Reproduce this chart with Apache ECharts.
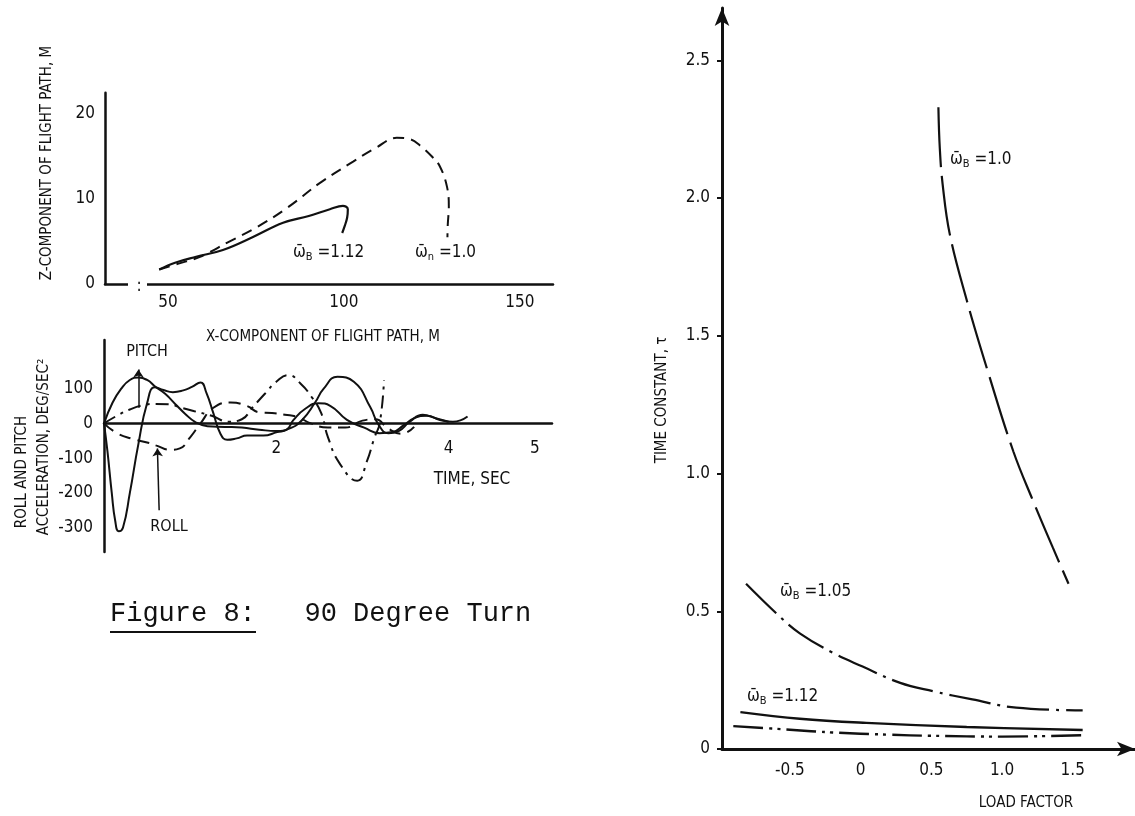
<!DOCTYPE html>
<html>
<head>
<meta charset="utf-8">
<title>Figure 8: 90 Degree Turn</title>
<script src="https://cdn.jsdelivr.net/npm/echarts@6/dist/echarts.min.js"></script>
<style>
  html, body { margin: 0; padding: 0; background: #fff; }
  #chart { width: 1135px; height: 816px; }
</style>
</head>
<body>
<div id="chart"></div>
<script>
// flight path (top left), x in m, z in m
const pathX112 = [47.5, 52, 58, 65.6, 74, 82.7, 90, 96, 99.7, 101.1, 100.9, 100.2, 99.5]
const pathZ112 = [1.7, 2.5, 3.2, 4.0, 5.5, 7.2, 8.0, 8.8, 9.2, 8.8, 7.8, 6.8, 6.0]
const pathX100 = [47.5, 53, 59.1, 67, 75.3, 84, 93.2, 102.6, 109, 115, 119, 121.6, 125, 127.3, 129.3, 129.8, 129.5, 129.4]
const pathZ100 = [1.7, 2.4, 3.2, 4.9, 6.7, 9.0, 11.9, 14.4, 16.0, 17.2, 17.0, 16.3, 15.0, 13.8, 11.4, 9.1, 7.0, 5.5]
const pathXTicks = [50, 100, 150]
const pathZTicks = [0, 10, 20]

// roll and pitch acceleration (bottom left), time in sec, deg/sec^2
const rollSolidT = [0, 0.04, 0.09, 0.13, 0.17, 0.22, 0.30, 0.40, 0.50, 0.59, 0.69, 0.80, 0.92, 1.02, 1.12, 1.19, 1.27, 1.35, 1.43, 1.54, 1.66, 1.85, 2.01, 2.12, 2.20, 2.34, 2.49, 2.63, 2.82, 3.02, 3.20, 3.35, 3.48, 3.60, 3.75, 3.90, 4.05, 4.22]
const rollSolidV = [0, -80, -200, -280, -310, -300, -200, -58, 58, 104, 96, 90, 95, 105, 118, 87, 29, -29, -47, -43, -35, -35, -25, -18, 10, 43, 58, 50, 10, -12, -28, -25, -5, 15, 22, 10, 5, 20]
const pitchSolidT = [0, 0.1, 0.2, 0.3, 0.4, 0.5, 0.6, 0.71, 0.85, 0.94, 1.06, 1.2, 1.4, 1.6, 1.8, 2.0, 2.15, 2.3, 2.45, 2.55, 2.71, 2.9, 3.09, 3.19, 3.3, 3.42, 3.55, 3.7, 3.85, 4.0]
const pitchSolidV = [0, 60, 100, 125, 132, 125, 105, 85, 50, 28, 4, -8, -10, -12, -18, -22, -15, 10, 60, 100, 134, 120, 47, -5, -28, -22, 5, 25, 15, 5]
const pitchDashT = [0, 0.15, 0.3, 0.45, 0.6, 0.75, 0.9, 1.05, 1.25, 1.45, 1.6, 1.72, 1.87, 2.0, 2.14, 2.28, 2.41, 2.52, 2.6, 2.74, 2.94, 3.05, 3.14, 3.2, 3.25]
const pitchDashV = [0, 22, 40, 52, 56, 55, 45, 35, 22, 5, 12, 45, 86, 120, 139, 115, 76, 30, -40, -117, -165, -110, -40, 0, 125]
const rollDashT = [0, 0.15, 0.34, 0.5, 0.61, 0.77, 0.88, 1.0, 1.12, 1.27, 1.47, 1.66, 1.8, 1.95, 2.1, 2.25, 2.4, 2.6, 2.8, 3.0, 3.15, 3.3, 3.45, 3.6]
const rollDashV = [0, -28, -45, -55, -64, -76, -72, -40, 0, 45, 60, 50, 32, 30, 25, 18, 0, -12, -12, 8, 12, -15, -30, -10]
const timeTicks = [2, 4, 5]
const accTicks = [-300, -200, -100, 0, 100]

// time constant vs load factor (right)
const load100 = [0.55, 0.56, 0.58, 0.63, 0.75, 0.90, 1.08, 1.22, 1.36, 1.47]
const tau100 = [2.33, 2.18, 2.05, 1.87, 1.63, 1.37, 1.08, 0.90, 0.73, 0.60]
const load105 = [-0.81, -0.57, -0.43, -0.2, 0.01, 0.28, 0.51, 0.79, 1.10, 1.57]
const tau105 = [0.60, 0.48, 0.42, 0.35, 0.30, 0.24, 0.21, 0.18, 0.15, 0.14]
const load112 = [-0.85, -0.43, 0.04, 0.75, 1.57]
const tau112 = [0.134, 0.11, 0.095, 0.08, 0.069]
const loadLow = [-0.9, -0.5, -0.2, 0.2, 0.5, 1.0, 1.58]
const tauLow = [0.083, 0.07, 0.06, 0.052, 0.048, 0.045, 0.05]
const loadTicks = [-0.5, 0, 0.5, 1.0, 1.5]
const tauTicks = [0, 0.5, 1.0, 1.5, 2.0, 2.5]

const zip = (a, b) => a.map((v, i) => [v, b[i]])

const FONT = "'Liberation Sans Narrow', 'DejaVu Sans Condensed', 'DejaVu Sans', sans-serif"
const INK = '#111'
const omega = '\u03C9\u0304'

// acceleration axis range; time axis sits on the zero line
const accMin = -370
const accMax = 240
const accHeight = 212
const zeroOffset = -accHeight * (0 - accMin) / (accMax - accMin)

const chart = echarts.init(document.getElementById('chart'))

const axisLine = (extra) => Object.assign({ show: true, onZero: false, lineStyle: { color: INK, width: 2.5 } }, extra || {})
const label = (vals, margin, fmt) => ({
  customValues: vals, margin, color: INK, fontSize: 17, fontFamily: FONT,
  formatter: fmt || (v => String(v))
})
const one = v => (v === 0 ? '0' : v.toFixed(1))

const line = (xi, data, width, type, smooth) => ({
  type: 'line', xAxisIndex: xi, yAxisIndex: xi, data,
  showSymbol: false, smooth: smooth == null ? 0.4 : smooth, silent: true,
  lineStyle: { color: INK, width, type }
})

const omegaText = (x, y, sub, val) => ({
  type: 'text', x, y, z: 50,
  style: {
    text: `{a|${omega}}{s|${sub}}{a| =${val}}`,
    verticalAlign: 'middle',
    rich: {
      a: { fontSize: 17, fontFamily: FONT, fill: INK },
      s: { fontSize: 11, fontFamily: FONT, fill: INK, padding: [9, 0, 0, 0] }
    }
  }
})
const txt = (x, y, text, size, rot, align) => ({
  type: 'text', x, y, rotation: rot || 0, z: 50,
  style: { text, fontSize: size, fontFamily: FONT, fill: INK, align: align || 'center', verticalAlign: 'middle' }
})

const option = {
  backgroundColor: '#fff',
  animation: false,
  grid: [
    { left: 105, top: 92.75, width: 448, height: 191.25 },
    { left: 104, top: 340, width: 448, height: accHeight },
    { left: 722, top: 8, width: 413, height: 741 }
  ],
  xAxis: [
    { type: 'value', gridIndex: 0, min: 32.1, max: 159.4, axisLine: axisLine(), axisTick: { show: false },
      splitLine: { show: false }, axisLabel: label(pathXTicks, 10) },
    { type: 'value', gridIndex: 1, min: 0, max: 5.2, offset: zeroOffset, axisLine: axisLine(), axisTick: { show: false },
      splitLine: { show: false }, axisLabel: label(timeTicks, 17) },
    { type: 'value', gridIndex: 2, min: -0.98, max: 1.94,
      axisLine: axisLine({ symbol: ['none', 'arrow'], symbolSize: [11, 18], lineStyle: { color: INK, width: 3 } }),
      axisTick: { show: false }, splitLine: { show: false }, axisLabel: label(loadTicks, 13, one) }
  ],
  yAxis: [
    { type: 'value', gridIndex: 0, min: 0, max: 22.5, axisLine: axisLine(), axisTick: { show: false },
      splitLine: { show: false }, axisLabel: label(pathZTicks, 10) },
    { type: 'value', gridIndex: 1, min: accMin, max: accMax, axisLine: axisLine(), axisTick: { show: false },
      splitLine: { show: false }, axisLabel: label(accTicks, 11) },
    { type: 'value', gridIndex: 2, min: 0, max: 2.69,
      axisLine: axisLine({ symbol: ['none', 'arrow'], symbolSize: [11, 18], lineStyle: { color: INK, width: 3 } }),
      axisTick: { show: true, customValues: tauTicks, length: 5, lineStyle: { color: INK, width: 2 } },
      splitLine: { show: false }, axisLabel: label(tauTicks, 12, one) }
  ],
  series: [
    line(0, zip(pathX112, pathZ112), 2.2, 'solid'),
    line(0, zip(pathX100, pathZ100), 2, [11, 7]),

    Object.assign(line(1, zip(rollSolidT, rollSolidV), 2, 'solid', 0.5), {
      markLine: {
        silent: true, symbol: ['none', 'arrow'], symbolSize: 8, label: { show: false },
        lineStyle: { color: INK, width: 1.5, type: 'solid' },
        data: [
          [{ coord: [0.4, 45] }, { coord: [0.4, 155] }],
          [{ coord: [0.64, -250] }, { coord: [0.62, -72] }]
        ]
      }
    }),
    line(1, zip(pitchSolidT, pitchSolidV), 2, 'solid', 0.5),
    line(1, zip(pitchDashT, pitchDashV), 2, [13, 6, 3, 6], 0.5),
    line(1, zip(rollDashT, rollDashV), 2, [12, 7], 0.5),

    line(2, zip(load100, tau100), 2.2, [60, 9]),
    line(2, zip(load105, tau105), 2.2, [42, 7, 3, 7]),
    line(2, zip(load112, tau112), 2.4, 'solid'),
    line(2, zip(loadLow, tauLow), 2.4, [30, 6, 3, 5, 3, 6])
  ],
  graphic: [
    // axis break on the flight path x axis
    { type: 'rect', shape: { x: 128, y: 279, width: 19, height: 10 }, style: { fill: '#fff' }, z: 40 },
    txt(139, 287, ':', 17),

    txt(47, 163, 'Z-COMPONENT OF FLIGHT PATH, M', 15, Math.PI / 2),
    txt(323, 337, 'X-COMPONENT OF FLIGHT PATH, M', 15),
    omegaText(293, 253, 'B', '1.12'),
    omegaText(415, 253, 'n', '1.0'),

    txt(22, 472, 'ROLL AND PITCH', 15, Math.PI / 2),
    txt(44, 447, 'ACCELERATION, DEG/SEC\u00B2', 15, Math.PI / 2),
    txt(147, 352, 'PITCH', 16),
    txt(169, 527, 'ROLL', 16),
    txt(472, 480, 'TIME, SEC', 17),

    txt(662, 400, 'TIME CONSTANT, \u03C4', 15, Math.PI / 2),
    txt(1026, 803, 'LOAD FACTOR', 15),
    omegaText(950, 160, 'B', '1.0'),
    omegaText(780, 592, 'B', '1.05'),
    omegaText(747, 697, 'B', '1.12'),

    {
      type: 'text', x: 110, y: 614, z: 50,
      style: { text: 'Figure 8:   90 Degree Turn', fontSize: 27, fontFamily: "'Courier New', 'Liberation Mono', monospace",
        fill: INK, verticalAlign: 'middle' }
    },
    { type: 'line', shape: { x1: 110, y1: 632, x2: 256, y2: 632 }, style: { stroke: INK, lineWidth: 2 }, z: 50 }
  ]
}

chart.setOption(option)
</script>
</body>
</html>
